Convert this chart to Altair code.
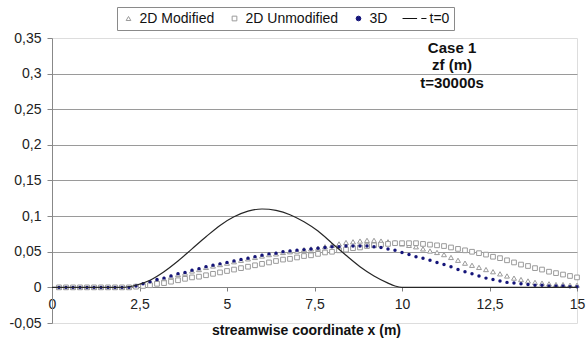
import altair as alt
import pandas as pd

# ---- data ----
x_grid = [0.2, 0.4, 0.6, 0.8, 1.0, 1.2, 1.4, 1.6, 1.8, 2.0, 2.2,
          2.4, 2.6, 2.8, 3.0,
          3.2, 3.4, 3.6, 3.8, 4.0,
          4.2, 4.4, 4.6, 4.8, 5.0,
          5.2, 5.4, 5.6, 5.8, 6.0,
          6.2, 6.4, 6.6, 6.8, 7.0,
          7.2, 7.4, 7.6, 7.8, 8.0,
          8.2, 8.4, 8.6, 8.8, 9.0,
          9.2, 9.4, 9.6, 9.8, 10.0,
          10.2, 10.4, 10.6, 10.8, 11.0,
          11.2, 11.4, 11.6, 11.8, 12.0,
          12.2, 12.4, 12.6, 12.8, 13.0,
          13.2, 13.4, 13.6, 13.8, 14.0,
          14.2, 14.4, 14.6, 14.8, 15.0]

modified_2d = [0, 0, 0, 0, 0, 0, 0, 0, 0, 0, 0,
               0.002, 0.004, 0.007, 0.010,
               0.012, 0.015, 0.018, 0.020, 0.023,
               0.025, 0.028, 0.030, 0.032, 0.034,
               0.036, 0.038, 0.040, 0.042, 0.044,
               0.046, 0.047, 0.049, 0.050, 0.051,
               0.053, 0.054, 0.055, 0.057, 0.059,
               0.061, 0.063, 0.064, 0.065, 0.066,
               0.066, 0.065, 0.064, 0.063, 0.061,
               0.059, 0.057, 0.054, 0.051, 0.049,
               0.046, 0.042, 0.038, 0.034, 0.031,
               0.028, 0.025, 0.022, 0.019, 0.016,
               0.013, 0.011, 0.009, 0.007, 0.006,
               0.005, 0.004, 0.004, 0.003, 0.003]

unmodified_2d = [0, 0, 0, 0, 0, 0, 0, 0, 0, 0, 0,
                 0.001, 0.002, 0.003, 0.005,
                 0.006, 0.008, 0.010, 0.012, 0.014,
                 0.015, 0.017, 0.019, 0.021, 0.023,
                 0.025, 0.027, 0.029, 0.031, 0.033,
                 0.035, 0.037, 0.039, 0.040, 0.042,
                 0.044, 0.045, 0.047, 0.049, 0.050,
                 0.052, 0.053, 0.055, 0.056, 0.058,
                 0.059, 0.060, 0.061, 0.062, 0.062,
                 0.062, 0.062, 0.061, 0.060, 0.059,
                 0.058, 0.056, 0.054, 0.052, 0.050,
                 0.048, 0.046, 0.043, 0.041, 0.038,
                 0.035, 0.032, 0.030, 0.027, 0.025,
                 0.022, 0.020, 0.018, 0.016, 0.014]

three_d = [0, 0, 0, 0, 0, 0, 0, 0, 0, 0, 0,
           0.002, 0.005, 0.008, 0.011,
           0.013, 0.016, 0.019, 0.021, 0.024,
           0.026, 0.029, 0.031, 0.033, 0.035,
           0.037, 0.039, 0.041, 0.043, 0.045,
           0.047, 0.048, 0.050, 0.051, 0.052,
           0.053, 0.054, 0.055, 0.056, 0.057,
           0.057, 0.058, 0.058, 0.058, 0.058,
           0.057, 0.056, 0.054, 0.052, 0.049,
           0.046, 0.043, 0.041, 0.038, 0.035,
           0.032, 0.029, 0.025, 0.022, 0.019,
           0.016, 0.013, 0.011, 0.009, 0.007,
           0.006, 0.005, 0.004, 0.003, 0.003,
           0.002, 0.002, 0.002, 0.001, 0.001]

t0_x = [0, 2.0, 2.4, 2.8, 3.2, 3.6, 4.0, 4.4, 4.8, 5.2, 5.6, 6.0,
        6.4, 6.8, 7.2, 7.6, 8.0, 8.4, 8.8, 9.2, 9.6, 9.8, 10.0, 15]
t0_y = [0, 0, 0.003, 0.010, 0.022, 0.037, 0.054, 0.071, 0.087, 0.099, 0.107, 0.110,
        0.108, 0.102, 0.092, 0.079, 0.062, 0.045, 0.029, 0.016, 0.006, 0.002, 0, 0]

series_names = ["2D Modified", "2D Unmodified", "3D", "t=0"]
x_ticks = [0, 2.5, 5, 7.5, 10, 12.5, 15]
y_ticks = [-0.05, 0, 0.05, 0.1, 0.15, 0.2, 0.25, 0.3, 0.35]
annotation_lines = ["Case 1", "zf (m)", "t=30000s"]
annotation_pos = [11.43, 0.346]

# ---- tables ----
n = len(x_grid)
pts = pd.DataFrame({
    "x": x_grid * 3,
    "y": modified_2d + unmodified_2d + three_d,
    "series": [series_names[0]] * n + [series_names[1]] * n + [series_names[2]] * n,
})
line_df = pd.DataFrame({"x": t0_x, "y": t0_y})
note_df = pd.DataFrame({"x": [annotation_pos[0]], "y": [annotation_pos[1]],
                        "t": ["\n".join(annotation_lines)]})

FONT = "Liberation Sans"
comma = "replace(toString(datum.value), '.', ',')"

x_enc = alt.X("x:Q",
              scale=alt.Scale(domain=[0, 15], nice=False, zero=False),
              axis=alt.Axis(values=x_ticks, tickCount=20, labelExpr=comma, offset=-36,
                            tickSize=4, tickColor="#808080", domainColor="#808080",
                            labelPadding=6, labelFontSize=14, labelColor="#222",
                            labelFont=FONT, labelFlush=False, labelOverlap=False,
                            grid=False, title="streamwise coordinate x (m)",
                            titleFont=FONT, titleFontSize=14, titleFontWeight="bold",
                            titleColor="#111", titlePadding=12, titleX=254, zindex=0))
y_enc = alt.Y("y:Q",
              scale=alt.Scale(domain=[-0.05, 0.35], nice=False, zero=False),
              axis=alt.Axis(values=y_ticks, tickCount=20, labelExpr=comma, tickSize=5,
                            tickColor="#888", domainColor="#888",
                            labelPadding=6, labelFontSize=14, labelColor="#222",
                            labelFont=FONT, labelOverlap=False, labelFlush=False,
                            grid=True,
                            gridColor={"condition": {"test": "datum.value > 0.01 && datum.value < 0.34",
                                                     "value": "#9a9a9a"},
                                       "value": "transparent"},
                            title=None, zindex=0))

legend = alt.Legend(title=None, orient="none", legendX=65, legendY=-31,
                    direction="horizontal", strokeColor="#8a8a8a", padding=4.5,
                    labelFontSize=14, labelFont=FONT, labelColor="#111",
                    symbolSize=22, symbolStrokeWidth=1, columnPadding=13, labelOffset=4)

shape_enc = alt.Shape("series:N", scale=alt.Scale(
    domain=series_names,
    range=["triangle-up", "square", "circle", "M-6.8,0H-0.6M1.2,0H3.4"]), legend=legend)
stroke_enc = alt.Stroke("series:N", scale=alt.Scale(
    domain=series_names, range=["#9a9a9a", "#9a9a9a", "#15157a", "#111111"]), legend=legend)
fill_enc = alt.Fill("series:N", scale=alt.Scale(
    domain=series_names, range=["white", "white", "#15157a", "transparent"]), legend=legend)

marker_size = {series_names[0]: 24, series_names[1]: 22, series_names[2]: 12}
marker_stroke = {series_names[0]: 1, series_names[1]: 1, series_names[2]: 0}

point_layers = []
for name in series_names[:3]:
    point_layers.append(
        alt.Chart(pts).transform_filter(alt.datum.series == name)
        .mark_point(opacity=1, size=marker_size[name], strokeWidth=marker_stroke[name])
        .encode(x=x_enc, y=y_enc, shape=shape_enc, stroke=stroke_enc, fill=fill_enc)
    )

t0_line = alt.Chart(line_df).mark_line(color="#262626", strokeWidth=1.2,
                                       interpolate="monotone").encode(x="x:Q", y="y:Q")

note = alt.Chart(note_df).mark_text(lineBreak="\n", fontWeight="bold", fontSize=15,
                                    font=FONT, baseline="top", align="center",
                                    lineHeight=17.5, color="#111").encode(
    x="x:Q", y="y:Q", text="t:N")

chart = alt.layer(*point_layers, t0_line, note).properties(
    width=525, height=285,
    padding={"left": 52, "top": 38, "right": 10, "bottom": 28},
    autosize=alt.AutoSizeParams(type="none"),
).configure_view(stroke="#d4d4d4").configure(font=FONT, background="white")

chart.save("out.html", embed_options={"renderer": "svg", "actions": False})
